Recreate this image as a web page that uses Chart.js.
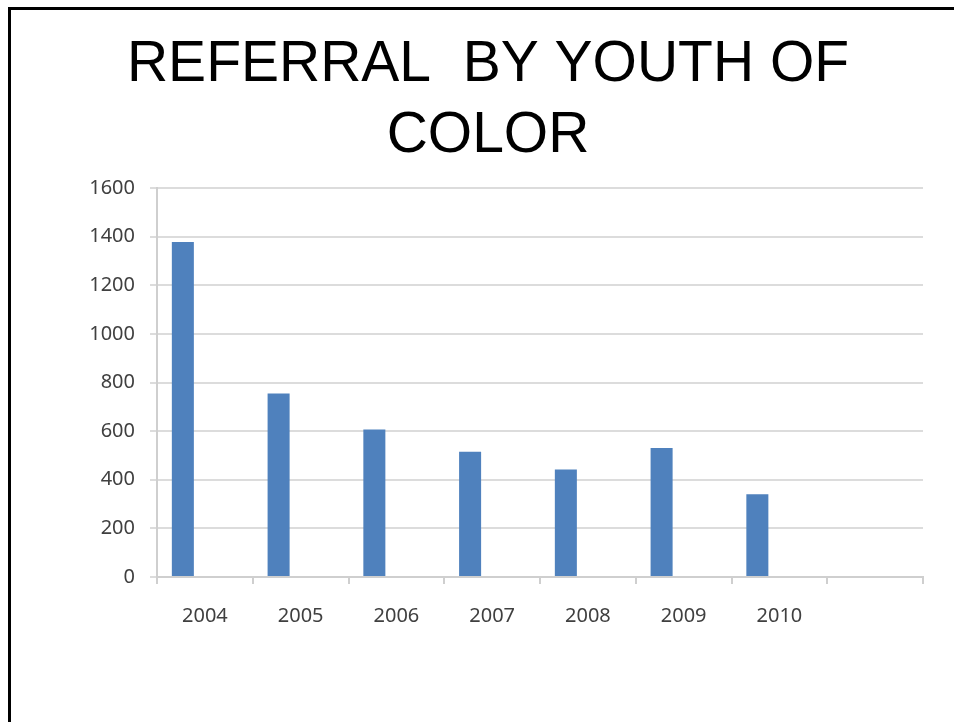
<!DOCTYPE html>
<html>
<head>
<meta charset="utf-8">
<title>Referral by youth of color</title>
<script src="https://cdn.jsdelivr.net/npm/chart.js@4/dist/chart.umd.min.js"></script>
<style>
  html, body { margin: 0; padding: 0; background: #fff; overflow: hidden; }
  #wrap { position: relative; width: 954px; height: 722px; }
  #frame {
    position: absolute; left: 8px; top: 7px; width: 960px; height: 730px;
    border-left: 3px solid #000; border-top: 3px solid #000; pointer-events: none;
  }
</style>
</head>
<body>
<div id="wrap">
  <canvas id="referrals" width="954" height="722"></canvas>
  <div id="frame"></div>
</div>
<script>
const years = ['2004', '2005', '2006', '2007', '2008', '2009', '2010', ''];
const referrals = [1378, 755, 607, 515, 442, 531, 340];
// the original Excel chart had two more (empty) series next to the bars
const series2 = [];
const series3 = [];
const yTicks = [0, 200, 400, 600, 800, 1000, 1200, 1400, 1600];

const ctx = document.getElementById('referrals');

const barColor = '#4f81bd';
const gridColor = '#dcdcdc';
const axisColor = '#cfcfcf';
const tickFont = { family: 'Noto Sans', size: 20 };

const chart = new Chart(ctx, {
  type: 'bar',
  data: {
    labels: years,
    datasets: [
      { label: 'Referrals', data: referrals, backgroundColor: barColor },
      { label: 'Series 2', data: series2, backgroundColor: barColor },
      { label: 'Series 3', data: series3, backgroundColor: barColor }
    ]
  },
  options: {
    responsive: false,
    animation: false,
    categoryPercentage: 0.69,
    barPercentage: 1.0,
    layout: {
      // left padding moves the centre of the title to where it sits in the original
      padding: { left: 53, right: 31, top: 0, bottom: 0 }
    },
    plugins: {
      legend: { display: false },
      tooltip: { enabled: false },
      title: {
        display: true,
        text: ['REFERRAL  BY YOUTH OF', 'COLOR'],
        color: '#000',
        font: { family: 'Liberation Sans', size: 57, weight: 'normal', lineHeight: 71 / 57 },
        padding: { top: 30, bottom: 16 }
      }
    },
    scales: {
      x: {
        grid: {
          offset: true,
          drawOnChartArea: false,
          drawTicks: true,
          tickLength: 7,
          color: axisColor,
          lineWidth: 2
        },
        border: { display: true, color: axisColor, width: 2 },
        ticks: { color: '#404040', font: tickFont, padding: 20, maxRotation: 0 },
        afterFit: (scale) => { scale.height = 145; }
      },
      y: {
        min: 0,
        max: 1600,
        afterBuildTicks: (scale) => { scale.ticks = yTicks.map(v => ({ value: v })); },
        grid: { color: gridColor, lineWidth: 2, tickLength: 7 },
        border: { display: true, color: axisColor, width: 2 },
        ticks: { color: '#404040', font: tickFont, padding: 15, callback: (v) => String(v) },
        afterFit: (scale) => { scale.width = 104; }
      }
    }
  }
});
</script>
</body>
</html>
